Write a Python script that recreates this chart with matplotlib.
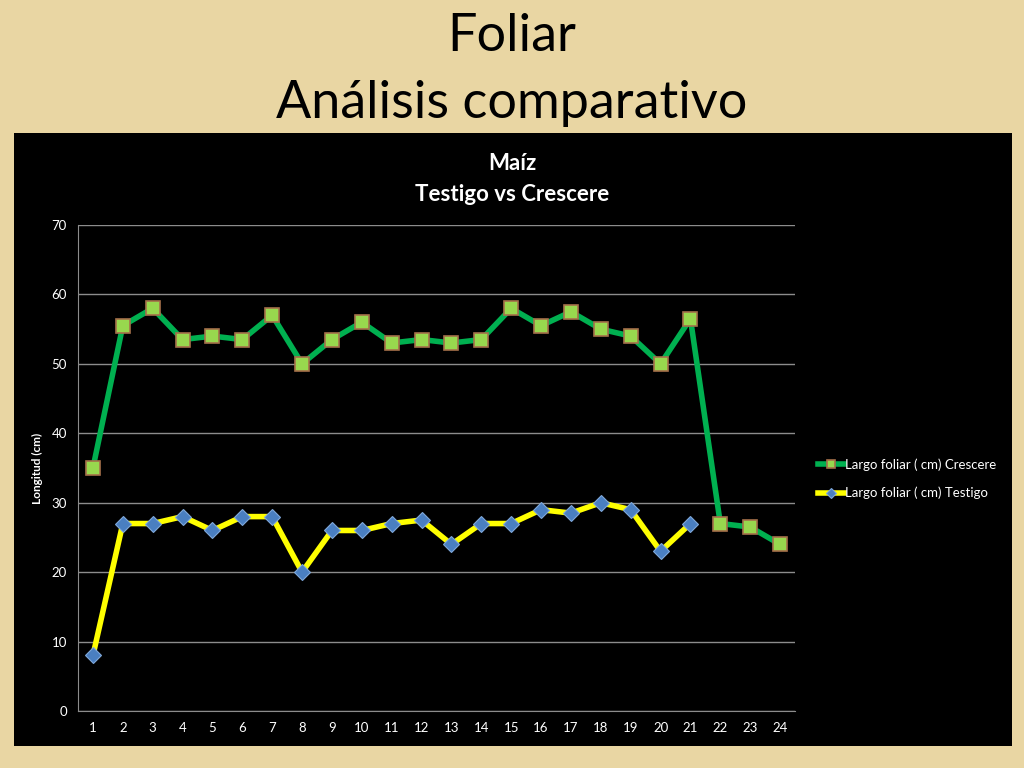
import numpy as np
import matplotlib
matplotlib.use('Agg')
import matplotlib.pyplot as plt

plt.rcParams['font.family'] = ['Lato', 'DejaVu Sans']

# datos
dias = list(range(1, 25))
crescere = [35, 55.5, 58, 53.5, 54, 53.5, 57, 50, 53.5, 56, 53, 53.5,
            53, 53.5, 58, 55.5, 57.5, 55, 54, 50, 56.5, 27, 26.5, 24]
testigo = [8, 27, 27, 28, 26, 28, 28, 20, 26, 26, 27, 27.5,
           24, 27, 27, 29, 28.5, 30, 29, 23, 27, np.nan, np.nan, np.nan]
yticks = [0, 10, 20, 30, 40, 50, 60, 70]

fig = plt.figure(figsize=(10.24, 7.68), dpi=100)
fig.patch.set_facecolor('#E9D6A3')

# titulo de la diapositiva
fig.text(0.5, 0.953, 'Foliar', ha='center', va='center', fontsize=37.5, color='black')
fig.text(0.5, 0.865, 'Análisis comparativo', ha='center', va='center', fontsize=37.5, color='black')

# area del grafico (negra)
bg = fig.add_axes([14/1024, 22/768, 998/1024, 613/768])
bg.set_facecolor('black')
bg.set_xticks([])
bg.set_yticks([])
for s in bg.spines.values():
    s.set_visible(False)

ax = fig.add_axes([78/1024, 57/768, 717/1024, 486/768])
ax.set_facecolor('black')

ax.plot(dias, crescere, color='#00B050', linewidth=4, marker='s', markersize=10,
        markerfacecolor='#98D84E', markeredgecolor='#A5704A', markeredgewidth=1.2,
        label='Largo foliar ( cm) Crescere', zorder=3)
ax.plot(dias, testigo, color='#FFFF00', linewidth=4, marker='D', markersize=8,
        markerfacecolor='#4A7FC1', markeredgecolor='#7FA8DA', markeredgewidth=0.8,
        label='Largo foliar ( cm) Testigo', zorder=3)

ax.set_xlim(0.5, 24.5)
ax.set_ylim(0, 70)
ax.set_xticks(dias)
ax.set_yticks(yticks)
ax.tick_params(colors='white', labelsize=9.5, length=0, pad=8)
ax.yaxis.grid(True, color='#8C8C8C', linewidth=1)
ax.set_axisbelow(True)
for side in ['top', 'right']:
    ax.spines[side].set_visible(False)
ax.spines['left'].set_color('#8C8C8C')
ax.spines['bottom'].set_color('#8C8C8C')

ax.set_ylabel('Longitud (cm)', color='white', fontsize=8.5, fontweight='bold', labelpad=6)

# titulo del grafico centrado en el area negra
fig.text(0.5, 0.787, 'Maíz', ha='center', va='center', color='white',
         fontsize=16, fontweight='bold')
fig.text(0.5, 0.747, 'Testigo vs Crescere', ha='center', va='center', color='white',
         fontsize=16, fontweight='bold')

leg = ax.legend(loc='center left', bbox_to_anchor=(1.015, 0.478), frameon=False,
                fontsize=9.5, handlelength=2.0, handletextpad=0.1, labelspacing=1.2,
                markerscale=0.6)
for t in leg.get_texts():
    t.set_color('white')

fig.savefig('out.png', dpi=100, facecolor=fig.get_facecolor())
